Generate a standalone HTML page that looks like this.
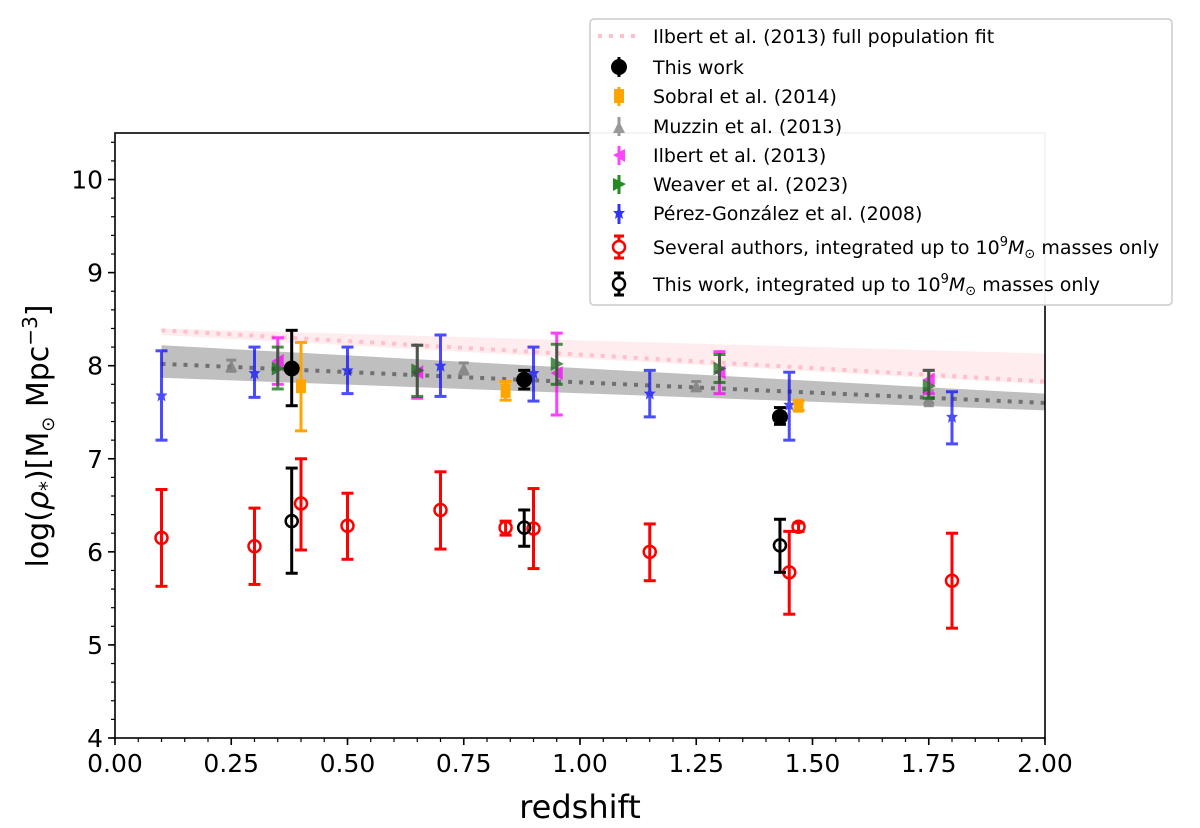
<!DOCTYPE html>
<html><head><meta charset="utf-8"><style>
body{margin:0;background:#fff;}
svg{display:block;font-family:"DejaVu Sans","Liberation Sans",sans-serif;}
</style></head><body>
<svg id="chart" width="1200" height="828" viewBox="0 0 1200 828" xmlns="http://www.w3.org/2000/svg"></svg>
<script>
// ---- data ----
const perezZ=[0.1,0.3,0.5,0.7,0.9,1.15,1.45,1.8];
const perezV=[7.68,7.92,7.95,8.0,7.92,7.7,7.58,7.45];
const perezHi=[8.16,8.2,8.2,8.33,8.2,7.95,7.93,7.72];
const perezLo=[7.2,7.66,7.7,7.67,7.62,7.45,7.2,7.16];
const muzzinZ=[0.25,0.75,1.25,1.75];
const muzzinV=[8.0,7.97,7.78,7.65];
const muzzinHi=[8.06,8.03,7.83,7.73];
const muzzinLo=[7.94,7.91,7.73,7.57];
const ilbertZ=[0.35,0.65,0.95,1.3,1.75];
const ilbertV=[8.05,7.93,7.92,7.93,7.85];
const ilbertHi=[8.3,8.22,8.35,8.15,7.95];
const ilbertLo=[7.8,7.65,7.47,7.7,7.7];
const weaverZ=[0.35,0.65,0.95,1.3,1.75];
const weaverV=[7.97,7.95,8.02,7.97,7.78];
const weaverHi=[8.2,8.22,8.23,8.12,7.95];
const weaverLo=[7.75,7.67,7.8,7.82,7.65];
const sobralZ=[0.4,0.84,1.47];
const sobralV=[7.78,7.73,7.57];
const sobralHi=[8.25,7.83,7.62];
const sobralLo=[7.3,7.63,7.52];
const thisZ=[0.38,0.88,1.43];
const thisV=[7.97,7.85,7.45];
const thisHi=[8.38,7.95,7.55];
const thisLo=[7.57,7.75,7.37];
const sevZ=[0.1,0.3,0.4,0.5,0.7,0.84,0.9,1.15,1.45,1.47,1.8];
const sevV=[6.15,6.06,6.52,6.28,6.45,6.26,6.25,6.0,5.78,6.27,5.69];
const sevHi=[6.67,6.47,7.0,6.63,6.86,6.33,6.68,6.3,6.22,6.31,6.2];
const sevLo=[5.63,5.65,6.02,5.92,6.03,6.18,5.82,5.69,5.33,6.22,5.18];
const this9Z=[0.38,0.88,1.43];
const this9V=[6.33,6.26,6.07];
const this9Hi=[6.9,6.45,6.35];
const this9Lo=[5.77,6.06,5.78];
const fitZ=[0.1,2.0];
const grayFit=[8.02,7.6];
const grayHi=[8.22,7.7];
const grayLo=[7.87,7.52];
const pinkFit=[8.38,7.83];
const pinkHi=[8.4,8.13];
const pinkLo=[8.33,7.8];
const xTicks=[0,0.25,0.5,0.75,1.0,1.25,1.5,1.75,2.0];
const xTickLabels=["0.00","0.25","0.50","0.75","1.00","1.25","1.50","1.75","2.00"];
const yTicks=[4,5,6,7,8,9,10];

// ---- axes ----
const X0=115,X1=1045,Y0=738,YT=133;
const xS=z=>X0+(z-0)/(2-0)*(X1-X0);
const yS=v=>Y0-(v-4)/(10.5-4)*(Y0-YT);
const svg=document.getElementById('chart');
const NS='http://www.w3.org/2000/svg';
function mk(tag,attrs,parent){const e=document.createElementNS(NS,tag);for(const k in attrs)e.setAttribute(k,attrs[k]);(parent||svg).appendChild(e);return e;}

function band(lo,hi,fill,op,name){
  const pts=fitZ.map((z,i)=>xS(z)+','+yS(hi[i])).concat(fitZ.slice().reverse().map((z,j)=>{const i=fitZ.length-1-j;return xS(z)+','+yS(lo[i]);}));
  const p=mk('polygon',{points:pts.join(' '),fill:fill,'fill-opacity':op});
  
  
}
band(pinkLo,pinkHi,'#ffc0cb',0.3,'ilbert-fit-band');
band(grayLo,grayHi,'#808080',0.5,'gray-fit-band');
function fitLine(v,col,name){
  const l=mk('line',{x1:xS(fitZ[0]),y1:yS(v[0]),x2:xS(fitZ[1]),y2:yS(v[1]),stroke:col,'stroke-width':4,'stroke-dasharray':'4 7'});
  
  
}
fitLine(pinkFit,'#ffc0cb','ilbert-fit-line');
fitLine(grayFit,'#707070','gray-fit-line');

function marker(g,type,x,y,col){
  if(type==='circle')mk('circle',{cx:x,cy:y,r:8,fill:col},g);
  else if(type==='open')mk('circle',{cx:x,cy:y,r:6,fill:'none',stroke:col,'stroke-width':2.5},g);
  else if(type==='square')mk('rect',{x:x-5,y:y-7,width:10,height:14,fill:col},g);
  else if(type==='tri-up')mk('polygon',{points:`${x-6},${y+6} ${x+6},${y+6} ${x},${y-6}`,fill:col},g);
  else if(type==='tri-left')mk('polygon',{points:`${x+6},${y-7} ${x+6},${y+7} ${x-6},${y}`,fill:col},g);
  else if(type==='tri-right')mk('polygon',{points:`${x-6},${y-7} ${x-6},${y+7} ${x+7},${y}`,fill:col},g);
  else if(type==='star')mk('polygon',{points:`${x},${y-6} ${x+2},${y-2} ${x+6},${y-2} ${x+3},${y+1} ${x+4},${y+6} ${x},${y+3} ${x-4},${y+6} ${x-3},${y+1} ${x-6},${y-2} ${x-2},${y-2}`,fill:col},g);
}
function series(name,Z,V,Hi,Lo,col,type,lw,cap,op){
  const g=mk('g',{opacity:op||1});
  
  
  Z.forEach((z,i)=>{
    const x=xS(z);
    mk('line',{x1:x,y1:yS(Hi[i]),x2:x,y2:yS(Lo[i]),stroke:col,'stroke-width':lw},g);
    mk('line',{x1:x-cap,y1:yS(Hi[i]),x2:x+cap,y2:yS(Hi[i]),stroke:col,'stroke-width':lw},g);
    mk('line',{x1:x-cap,y1:yS(Lo[i]),x2:x+cap,y2:yS(Lo[i]),stroke:col,'stroke-width':lw},g);
    marker(g,type,x,yS(V[i]),col);
  });
}
series('perez-gonzalez-series',perezZ,perezV,perezHi,perezLo,'#0000ff','star',3,6,0.7);
series('muzzin-series',muzzinZ,muzzinV,muzzinHi,muzzinLo,'#808080','tri-up',3,5,0.85);
series('ilbert-series',ilbertZ,ilbertV,ilbertHi,ilbertLo,'#ff00ff','tri-left',3,6,0.75);
series('weaver-series',weaverZ,weaverV,weaverHi,weaverLo,'#006400','tri-right',3,6,0.7);
series('sobral-series',sobralZ,sobralV,sobralHi,sobralLo,'#ffa500','square',3,6,1);
series('this-work-series',thisZ,thisV,thisHi,thisLo,'#000000','circle',3,6,1);
series('several-authors-1e9-series',sevZ,sevV,sevHi,sevLo,'#ff0000','open',3,6,1);
series('this-work-1e9-series',this9Z,this9V,this9Hi,this9Lo,'#000000','open',3,6,1);

const fr=mk('rect',{x:X0,y:YT,width:X1-X0,height:Y0-YT,fill:'none',stroke:'#000','stroke-width':1.6});


for(let v=4;v<=10.5001;v+=0.2){mk('line',{x1:X0-4,y1:yS(v),x2:X0,y2:yS(v),stroke:'#000','stroke-width':1.2});}
for(let z=0;z<=2.0001;z+=0.05){mk('line',{x1:xS(z),y1:Y0,x2:xS(z),y2:Y0+4,stroke:'#000','stroke-width':1.2});}
yTicks.forEach(v=>{
  mk('line',{x1:X0-7,y1:yS(v),x2:X0,y2:yS(v),stroke:'#000','stroke-width':1.6});
  const t=mk('text',{x:X0-12,y:yS(v)+9,'text-anchor':'end','font-size':25,fill:'#000'});t.textContent=v;
  
  
});
xTicks.forEach((z,i)=>{
  mk('line',{x1:xS(z),y1:Y0,x2:xS(z),y2:Y0+7,stroke:'#000','stroke-width':1.6});
  const t=mk('text',{x:xS(z),y:Y0+34,'text-anchor':'middle','font-size':25,fill:'#000'});t.textContent=xTickLabels[i];
  
  
});
</script>
<svg style="position:absolute;left:0;top:0" width="1200" height="828" xmlns="http://www.w3.org/2000/svg" font-family="DejaVu Sans, Liberation Sans, sans-serif">
<text x="580" y="818" text-anchor="middle" font-size="32">redshift</text>
<text transform="translate(48,436) rotate(-90)" text-anchor="middle" font-size="30">log(<tspan font-style="italic">ρ</tspan><tspan font-size="20" dy="6">*</tspan><tspan dy="-6">)[M</tspan><tspan font-size="18" dy="6">⊙</tspan><tspan dy="-6"> Mpc</tspan><tspan font-size="20" dy="-11">−3</tspan><tspan dy="11">]</tspan></text>
<g font-size="19">
<rect x="590" y="19" width="582" height="286" rx="4" fill="#fff" fill-opacity="0.95" stroke="#ccc" stroke-width="1.5"/>
<line x1="598" y1="36" x2="636" y2="36" stroke="#ffc0cb" stroke-width="4" stroke-dasharray="4 7"/>
<text x="653" y="43">Ilbert et al. (2013) full population fit</text>
<line x1="619" y1="57" x2="619" y2="77" stroke="#000" stroke-width="3"/><circle cx="619" cy="67" r="8"/>
<text x="653" y="74">This work</text>
<line x1="619" y1="87" x2="619" y2="106" stroke="#ffa500" stroke-width="3"/><rect x="614" y="89" width="10" height="14" fill="#ffa500"/>
<text x="653" y="103">Sobral et al. (2014)</text>
<line x1="619" y1="117" x2="619" y2="136" stroke="#999" stroke-width="3"/><polygon points="613,133 625,133 619,121" fill="#999"/>
<text x="653" y="133">Muzzin et al. (2013)</text>
<line x1="619" y1="146" x2="619" y2="165" stroke="#ff44ff" stroke-width="3"/><polygon points="625,149 625,162 613,155" fill="#ff44ff"/>
<text x="653" y="162">Ilbert et al. (2013)</text>
<line x1="619" y1="175" x2="619" y2="194" stroke="#228b22" stroke-width="3"/><polygon points="613,178 613,191 626,184" fill="#228b22"/>
<text x="653" y="191">Weaver et al. (2023)</text>
<line x1="619" y1="204" x2="619" y2="224" stroke="#3333ff" stroke-width="3"/><polygon points="619,207 621,211 625,211 622,214 623,219 619,216 615,219 616,214 613,211 617,211" fill="#3333ff"/>
<text x="653" y="220">Pérez-González et al. (2008)</text>
<line x1="619" y1="236" x2="619" y2="258" stroke="red" stroke-width="3"/><line x1="614" y1="236" x2="624" y2="236" stroke="red" stroke-width="3"/><line x1="614" y1="258" x2="624" y2="258" stroke="red" stroke-width="3"/><circle cx="619" cy="247" r="6" fill="#fff" stroke="red" stroke-width="2.5"/>
<text x="653" y="254">Several authors, integrated up to 10<tspan font-size="13" dy="-8">9</tspan><tspan dy="8" font-style="italic">M</tspan><tspan font-size="13" dy="4">⊙</tspan><tspan dy="-4"> masses only</tspan></text>
<line x1="619" y1="273" x2="619" y2="295" stroke="#000" stroke-width="3"/><line x1="614" y1="273" x2="624" y2="273" stroke="#000" stroke-width="3"/><line x1="614" y1="295" x2="624" y2="295" stroke="#000" stroke-width="3"/><circle cx="619" cy="284" r="6" fill="#fff" stroke="#000" stroke-width="2.5"/>
<text x="653" y="291">This work, integrated up to 10<tspan font-size="13" dy="-8">9</tspan><tspan dy="8" font-style="italic">M</tspan><tspan font-size="13" dy="4">⊙</tspan><tspan dy="-4"> masses only</tspan></text>
</g>
</svg>
</body></html>
